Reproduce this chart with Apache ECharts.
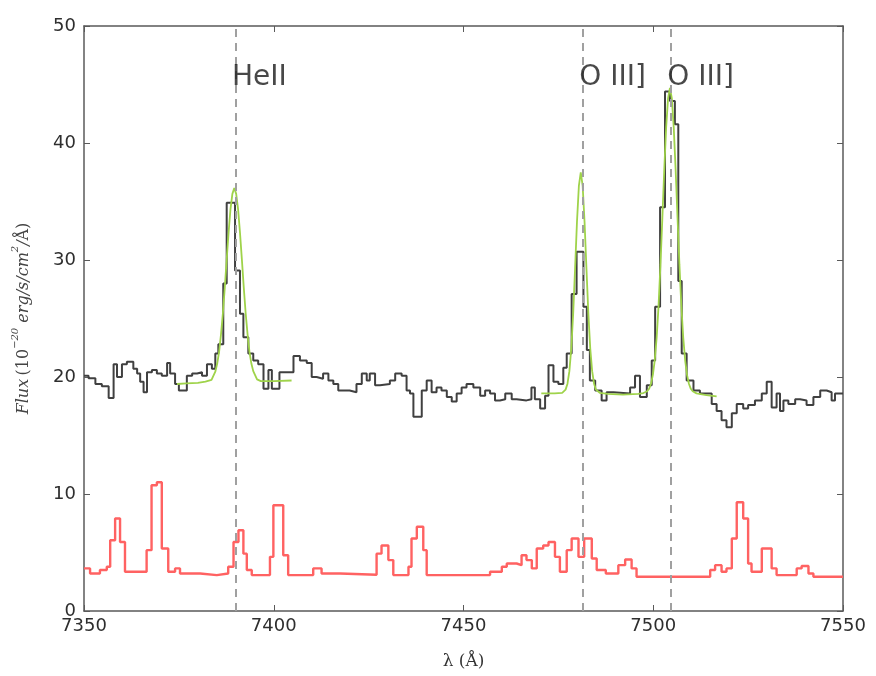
<!DOCTYPE html>
<html>
<head>
<meta charset="utf-8">
<script src="https://cdn.jsdelivr.net/npm/echarts@6/dist/echarts.min.js"></script>
<style>html,body{margin:0;padding:0;background:#fff}#c{width:876px;height:676px}</style>
</head>
<body>
<div id="c"></div>
<script>
// Observed spectrum (black step line): left bin edges and flux
var blackWave = [7350.0,7351.2,7353.0,7354.7,7356.5,7357.8,7358.7,7360.0,7361.3,7363.0,7364.0,7364.8,7365.7,7366.6,7367.9,7369.2,7370.5,7371.9,7372.7,7374.0,7375.0,7377.1,7378.5,7379.8,7381.1,7382.4,7383.7,7384.6,7385.4,7386.7,7387.6,7389.8,7391.1,7392.0,7393.3,7394.6,7395.9,7397.3,7398.6,7399.5,7401.5,7405.2,7406.9,7408.7,7410.0,7411.3,7413.0,7414.4,7415.7,7417.0,7420.0,7421.8,7423.2,7424.5,7425.3,7426.7,7428.0,7430.6,7432.0,7433.7,7435.0,7435.9,7436.8,7439.0,7440.3,7441.6,7442.9,7444.2,7445.6,7446.9,7448.2,7449.5,7450.8,7452.6,7454.4,7455.7,7457.0,7458.3,7459.6,7461.0,7462.7,7464.0,7466.6,7467.9,7468.8,7470.2,7471.5,7472.4,7473.7,7475.0,7476.3,7477.2,7478.5,7479.8,7481.6,7482.5,7483.3,7484.7,7486.4,7487.7,7489.5,7493.9,7495.2,7496.5,7498.3,7499.6,7500.5,7501.8,7503.1,7504.4,7505.7,7506.6,7507.5,7508.8,7510.6,7512.3,7515.4,7516.7,7518.0,7519.3,7520.7,7522.0,7523.7,7525.0,7526.8,7528.6,7529.9,7531.2,7532.5,7533.4,7534.3,7535.6,7537.4,7538.7,7540.4,7542.2,7544.0,7545.7,7547.0,7547.9,7550.0];
var blackFlux = [20.1,19.9,19.4,19.2,18.2,21.1,20.0,21.1,21.3,20.7,20.3,19.6,18.7,20.4,20.6,20.3,20.1,21.2,20.3,19.4,18.85,20.1,20.3,20.4,20.1,21.1,20.7,22.0,22.8,28.0,34.9,29.1,25.4,23.4,22.0,21.4,21.1,19.0,20.6,19.0,20.4,21.8,21.4,21.2,20.0,19.85,20.3,19.7,19.4,18.85,18.7,19.4,20.3,19.7,20.3,19.3,19.4,19.7,20.3,20.1,18.85,18.6,16.6,18.85,19.7,18.7,19.1,18.85,18.3,17.9,18.6,19.1,19.4,19.1,18.4,18.85,18.6,18.0,18.1,18.6,18.1,18.0,18.1,19.1,18.1,17.3,18.4,21.0,19.6,19.4,20.8,22.0,27.1,30.7,26.0,22.3,19.7,18.85,18.0,18.7,18.6,19.1,20.1,18.3,19.3,21.4,26.0,34.5,44.4,43.6,41.6,28.2,22.0,19.7,18.85,18.6,17.7,17.1,16.3,15.7,16.9,17.7,17.3,17.6,18.0,18.6,19.6,17.4,18.6,17.1,18.0,17.7,18.1,18.0,17.6,18.3,18.85,18.7,18.0,18.6,18.6];

// Sky / noise spectrum (red step line)
var redWave = [7350.0,7351.6,7354.2,7356.0,7356.9,7358.2,7359.5,7360.8,7366.5,7367.8,7369.2,7370.5,7372.2,7374.0,7375.3,7380.6,7385.0,7388.0,7389.4,7390.7,7392.0,7392.9,7394.2,7399.0,7399.9,7402.5,7403.8,7410.4,7412.6,7417.5,7427.1,7428.4,7430.2,7431.5,7435.5,7436.3,7437.7,7439.4,7440.3,7457.0,7460.1,7461.4,7464.0,7465.3,7466.6,7468.0,7469.3,7471.0,7472.4,7474.1,7475.4,7477.2,7478.5,7480.3,7481.8,7483.8,7485.1,7487.5,7490.8,7492.6,7494.3,7495.6,7515.0,7516.3,7518.0,7519.3,7520.7,7522.0,7523.7,7525.0,7525.9,7528.6,7531.2,7532.5,7537.8,7539.1,7540.9,7542.2,7550.0];
var redFlux = [3.64,3.2,3.5,3.78,6.05,7.9,5.9,3.35,5.2,10.75,11.0,5.34,3.35,3.64,3.2,3.07,3.2,3.78,5.9,6.9,4.9,3.5,3.07,4.63,9.04,4.77,3.07,3.64,3.2,3.1,4.9,5.6,4.35,3.07,3.78,6.2,7.2,5.2,3.07,3.35,3.78,4.06,3.92,4.77,4.35,3.64,5.34,5.6,5.9,4.63,3.35,5.2,6.2,4.63,6.2,4.49,3.5,3.2,3.92,4.4,3.64,2.93,3.5,3.92,3.35,3.64,6.2,9.3,7.9,4.06,3.35,5.34,3.64,3.07,3.64,3.85,3.2,2.93,2.93];

// Line fits (green), null separates the two fitted windows
var fitWave = [7374.5,7377,7380,7382,7383.6,7384.6,7385.1,7385.6,7386.1,7386.6,7387.1,7387.6,7388.1,7388.6,7389.1,7389.6,7390.1,7390.6,7391.1,7391.6,7392.1,7392.6,7393.1,7393.6,7394.1,7394.6,7395.6,7396.6,7400,7404.7,
  7440,
  7470.5,7474,7476,7476.9,7477.4,7477.9,7478.4,7478.9,7479.4,7479.9,7480.4,7480.9,7481.4,7481.9,7482.4,7482.9,7483.4,7483.9,7484.4,7484.9,7485.9,7488,7492,7496,7497.4,7498.4,7498.9,7499.4,7499.9,7500.4,7500.9,7501.4,7501.9,7502.4,7502.9,7503.4,7503.9,7504.4,7504.9,7505.4,7505.9,7506.4,7506.9,7507.4,7507.9,7508.4,7508.9,7509.4,7509.9,7510.4,7511.4,7514,7516.7];
var fitFlux = [19.4,19.45,19.5,19.6,19.75,20.45,21.15,22.15,23.65,25.45,27.65,30.05,32.35,34.35,35.65,36.15,35.65,34.35,32.35,30.05,27.65,25.45,23.65,22.15,21.15,20.5,19.8,19.65,19.65,19.7,
  null,
  18.6,18.6,18.65,18.92,19.43,20.5,22.44,25.4,29.25,33.25,36.33,37.5,36.33,33.25,29.25,25.4,22.44,20.5,19.43,18.92,18.65,18.55,18.5,18.55,18.63,18.78,18.99,19.42,20.18,21.45,23.38,26.1,29.58,33.6,37.71,41.33,43.81,44.7,43.81,41.33,37.71,33.6,29.58,26.1,23.38,21.45,20.18,19.42,18.99,18.78,18.6,18.45,18.35];

// Emission line markers
var lineWave = [7390, 7481.5, 7504.7];
var lineLabels = ['HeII', 'O III]', 'O III]'];
var labelY = 45.6;

function zip(a, b) { return a.map(function (v, i) { return [v, b[i]]; }); }

var chart = echarts.init(document.getElementById('c'));
var axisColor = '#5a5a5a';
var tickFont = { fontFamily: 'DejaVu Sans', fontSize: 18, color: '#2e2e2e' };

chart.setOption({
  animation: false,
  grid: { left: 84, right: 33, top: 26, bottom: 65 },
  xAxis: [{
    type: 'value', min: 7350, max: 7550, interval: 50,
    axisLine: { show: true, onZero: false, lineStyle: { color: axisColor, width: 1.5 } },
    axisTick: { show: true, inside: true, length: 6, lineStyle: { color: axisColor } },
    axisLabel: Object.assign({ margin: 6, showMinLabel: true, showMaxLabel: true,
      formatter: function (v) { return String(v); } }, tickFont),
    splitLine: { show: false },
    name: 'λ (Å)', nameLocation: 'middle', nameGap: 42,
    nameTextStyle: { fontFamily: 'DejaVu Serif', fontSize: 17, color: '#333' }
  }, {
    type: 'value', min: 7350, max: 7550, interval: 50, position: 'top',
    axisLine: { show: true, onZero: false, lineStyle: { color: axisColor, width: 1.5 } },
    axisTick: { show: true, inside: true, length: 6, lineStyle: { color: axisColor } },
    axisLabel: { show: false }, splitLine: { show: false }
  }],
  yAxis: [{
    type: 'value', min: 0, max: 50, interval: 10,
    axisLine: { show: true, onZero: false, lineStyle: { color: axisColor, width: 1.5 } },
    axisTick: { show: true, inside: true, length: 6, lineStyle: { color: axisColor } },
    axisLabel: Object.assign({ margin: 8 }, tickFont),
    splitLine: { show: false },
    name: '{i|Flux} {n|(10}{s|−20}{n| }{i|erg/s/cm}{s|2}{i|/}{n|Å)}',
    nameLocation: 'middle', nameGap: 52, nameRotate: 90,
    nameTextStyle: {
      color: '#444',
      rich: {
        i: { fontFamily: 'DejaVu Serif', fontStyle: 'italic', fontSize: 16, color: '#444', lineHeight: 22, verticalAlign: 'bottom' },
        n: { fontFamily: 'DejaVu Serif', fontSize: 16, color: '#444', lineHeight: 22, verticalAlign: 'bottom' },
        s: { fontFamily: 'DejaVu Serif', fontStyle: 'italic', fontSize: 10, color: '#444', lineHeight: 22, verticalAlign: 'top' }
      }
    }
  }, {
    type: 'value', min: 0, max: 50, interval: 10, position: 'right',
    axisLine: { show: true, onZero: false, lineStyle: { color: axisColor, width: 1.5 } },
    axisTick: { show: true, inside: true, length: 6, lineStyle: { color: axisColor } },
    axisLabel: { show: false }, splitLine: { show: false }
  }],
  series: [{
    type: 'line', name: 'noise', step: 'end', showSymbol: false, z: 2,
    data: zip(redWave, redFlux),
    lineStyle: { color: '#ff6262', width: 2.4 }
  }, {
    type: 'line', name: 'spectrum', step: 'end', showSymbol: false, z: 3,
    data: zip(blackWave, blackFlux),
    lineStyle: { color: '#404040', width: 2 },
    markLine: {
      silent: true, symbol: ['none', 'none'],
      label: { show: false },
      lineStyle: { color: '#a0a0a0', type: [8, 6], width: 2 },
      data: lineWave.map(function (w) { return { xAxis: w }; })
    }
  }, {
    type: 'line', name: 'fit', showSymbol: false, connectNulls: false, z: 4,
    data: zip(fitWave, fitFlux),
    lineStyle: { color: '#9fd34a', width: 1.8 }
  }, {
    type: 'scatter', name: 'labels', symbolSize: 0, z: 5, silent: true,
    data: lineWave.map(function (w, i) { return { value: [w - 1.0, labelY], name: lineLabels[i] }; }),
    label: {
      show: true, position: 'right', distance: 0, formatter: '{b}',
      fontFamily: 'DejaVu Sans', fontSize: 28, color: '#1a1a1a'
    }
  }]
});
</script>
</body>
</html>
